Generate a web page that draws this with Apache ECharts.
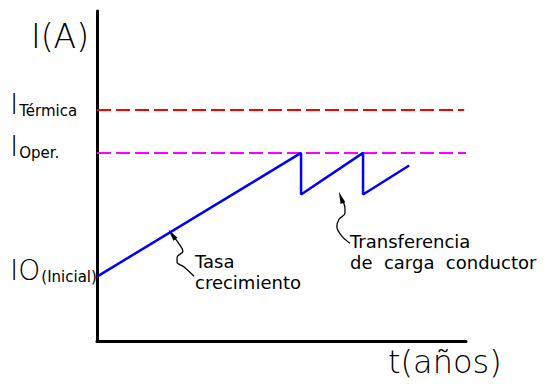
<!DOCTYPE html>
<html>
<head>
    <meta charset="utf-8">
    <title>I(A) vs t(años)</title>
    <script src="https://cdn.jsdelivr.net/npm/echarts@6.0.0/dist/echarts.min.js"></script>
    <style>
        html, body { margin: 0; padding: 0; background: #fff; }
        #chart { width: 552px; height: 385px; }
    </style>
</head>
<body>
<div id="chart"></div>

<script>
    // corriente de carga: crecimiento con dos transferencias
    const growthX = [0, 55.3, 55.3, 72.1, 72.1, 84.6];
    const growthY = [19.5, 57, 44.4, 57, 44.4, 53.2];

    // niveles de referencia
    const iTermica = 70;
    const iOper = 57;
    const lineEndX = [99.5, 100];

    // etiquetas del eje I
    const yTickValues = [19.5, 57, 70];
    const yTickMain = ['IO', 'I', 'I'];
    const yTickSub = ['(Inicial)', 'Oper.', 'Térmica'];

    // flechas de anotación
    const tasaX = [20.3, 22.5, 23.3, 21.7, 21.7, 23.6, 26.3];
    const tasaY = [32.3, 29.0, 27.2, 25.4, 23.9, 22.4, 19.6];
    const transX = [66.1, 67.2, 67.2, 65.6, 65.0, 66.4, 68.6];
    const transY = [43.5, 40.2, 38.7, 36.9, 34.7, 31.7, 29.6];

    const font = '"DejaVu Sans", sans-serif';

    function pairs(xs, ys) {
        return xs.map((x, i) => [x, ys[i]]);
    }

    function leader(xs, ys, rot) {
        return {
            type: 'line',
            data: pairs(xs, ys),
            smooth: 0.35,
            showAllSymbol: true,
            symbol: (v, p) => p.dataIndex === 0 ? 'triangle' : 'none',
            symbolSize: [5, 12],
            symbolRotate: rot,
            itemStyle: { color: '#000' },
            lineStyle: { color: '#000', width: 1.3 },
            silent: true,
            z: 3
        };
    }

    const chart = echarts.init(document.getElementById('chart'), null, { renderer: 'svg' });
    chart.setOption({
        animation: false,
        backgroundColor: '#fff',
        grid: { left: 97, right: 86, top: 11, bottom: 44 },
        xAxis: {
            type: 'value', min: 0, max: 100,
            axisLine: { show: true, lineStyle: { color: '#000', width: 3 } },
            axisTick: { show: false },
            axisLabel: { show: false },
            splitLine: { show: false }
        },
        yAxis: {
            type: 'value', min: 0, max: 100,
            axisLine: { show: true, lineStyle: { color: '#000', width: 3 } },
            axisTick: { show: false },
            splitLine: { show: false },
            axisLabel: {
                show: true,
                customValues: yTickValues,
                align: 'left',
                margin: 87,
                verticalAlign: 'middle',
                padding: [0, 0, 12, 0],
                formatter: function (v) {
                    const i = yTickValues.indexOf(v);
                    return '{m|' + yTickMain[i] + '}{s|' + yTickSub[i] + '}';
                },
                rich: {
                    m: { fontFamily: font, fontSize: 28, fontWeight: 200, color: '#000', verticalAlign: 'bottom', lineHeight: 28 },
                    s: { fontFamily: font, fontSize: 15, color: '#000', verticalAlign: 'bottom', lineHeight: 15, padding: [0, 0, 0, 1] }
                }
            }
        },
        graphic: [
            { type: 'text', left: 31, top: 20, style: { text: 'I(A)', font: '200 33px ' + font, fill: '#000' } },
            { type: 'text', left: 388, top: 346, style: { text: 't(años)', font: '200 32px ' + font, fill: '#000' } },
            { type: 'text', left: 195, top: 251, style: { text: 'Tasa\ncrecimiento', font: '18px ' + font, lineHeight: 21, fill: '#000', letterSpacing: 0.5 } },
            { type: 'text', left: 350, top: 231, style: { text: 'Transferencia\nde  carga  conductor', font: '18px ' + font, lineHeight: 21, fill: '#000', letterSpacing: 0.8 } }
        ],
        series: [
            {
                type: 'line',
                data: [[0, iTermica], [lineEndX[0], iTermica]],
                symbol: 'none',
                lineStyle: { color: '#ff0000', width: 2, type: [14, 5] },
                silent: true
            },
            {
                type: 'line',
                data: [[0, iOper], [lineEndX[1], iOper]],
                symbol: 'none',
                lineStyle: { color: '#ff00ff', width: 2, type: [14, 5] },
                silent: true
            },
            {
                type: 'line',
                data: pairs(growthX, growthY),
                symbol: 'none',
                lineStyle: { color: '#0000ff', width: 2.5 },
                silent: true,
                z: 4
            },
            leader(tasaX, tasaY, 36),
            leader(transX, transY, 20)
        ]
    });
</script>
</body>
</html>
